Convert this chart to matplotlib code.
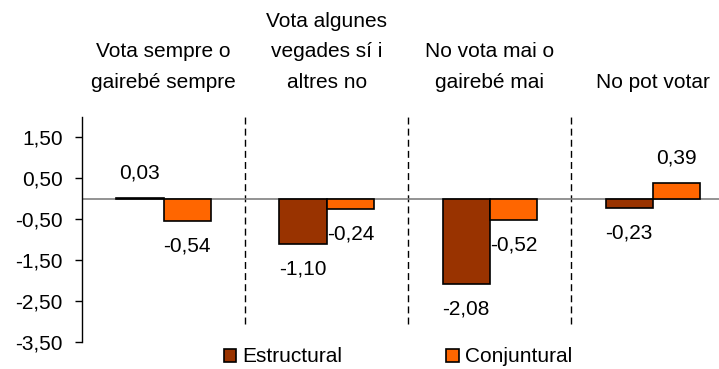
import matplotlib
matplotlib.use("Agg")
import matplotlib.pyplot as plt
from matplotlib.patches import Patch
import numpy as np

plt.rcParams['font.family'] = ['Liberation Sans', 'DejaVu Sans']

categories = ["Vota sempre o\ngairebé sempre",
              "Vota algunes\nvegades sí i\naltres no",
              "No vota mai o\ngairebé mai",
              "No pot votar"]
series_names = ["Estructural", "Conjuntural"]
estructural = [0.03, -1.10, -2.08, -0.23]
conjuntural = [-0.54, -0.24, -0.52, 0.39]
y_ticks = [-3.5, -2.5, -1.5, -0.5, 0.5, 1.5]

colors = ["#993300", "#FF6600"]

W, H = 719, 369
fig = plt.figure(figsize=(W / 100, H / 100), dpi=100)
ax = fig.add_axes([82 / W, 1 - 342 / H, 1 - 82 / W, 225 / H])

x = np.arange(len(categories))
bw = 0.29
fs = 15

for vals, off, col in [(estructural, -bw / 2, colors[0]), (conjuntural, bw / 2, colors[1])]:
    bars = ax.bar(x + off, vals, width=bw, color=col, edgecolor="black", linewidth=1.2, zorder=3)
    for b, v in zip(bars, vals):
        sign = 1 if v >= 0 else -1
        ax.annotate(f"{v:.2f}".replace(".", ","),
                    xy=(b.get_x() + b.get_width() / 2, v),
                    xytext=(0, sign * 18), textcoords="offset points",
                    ha="center", va="center", fontsize=fs, zorder=4)

ax.set_xlim(-0.5, 3.405)
ax.set_ylim(-3.5, 2.0)
ax.axhline(0, color="#808080", lw=1.2, zorder=2)

for b in [0.5, 1.5, 2.5]:
    ax.axvline(b, ymin=0.08, ymax=1, color="black", lw=1,
               linestyle=(0, (5, 3)), zorder=1)

for sp in ["top", "right", "bottom"]:
    ax.spines[sp].set_visible(False)
ax.spines["left"].set_linewidth(1)
ax.set_xticks([])
ax.set_yticks(y_ticks)
ax.set_yticklabels([f"{t:.2f}".replace(".", ",") for t in y_ticks], fontsize=fs)
ax.tick_params(axis="y", direction="out", length=5, width=1, pad=9)

for xi, lab in zip(x, categories):
    ax.text(xi, 1.129, lab, transform=ax.get_xaxis_transform(),
            ha="center", va="baseline", fontsize=fs, linespacing=1.78,
            multialignment="center", clip_on=False)

handles = [Patch(facecolor=c, edgecolor="black", linewidth=1.2) for c in colors]
fig.legend(handles, series_names, loc="center", bbox_to_anchor=(398 / W, 1 - 357 / H),
           ncol=2, frameon=False, fontsize=fs, handlelength=0.6, handleheight=0.6,
           handletextpad=0.3, columnspacing=5.0, borderpad=0)

fig.savefig("out.png", dpi=100)
